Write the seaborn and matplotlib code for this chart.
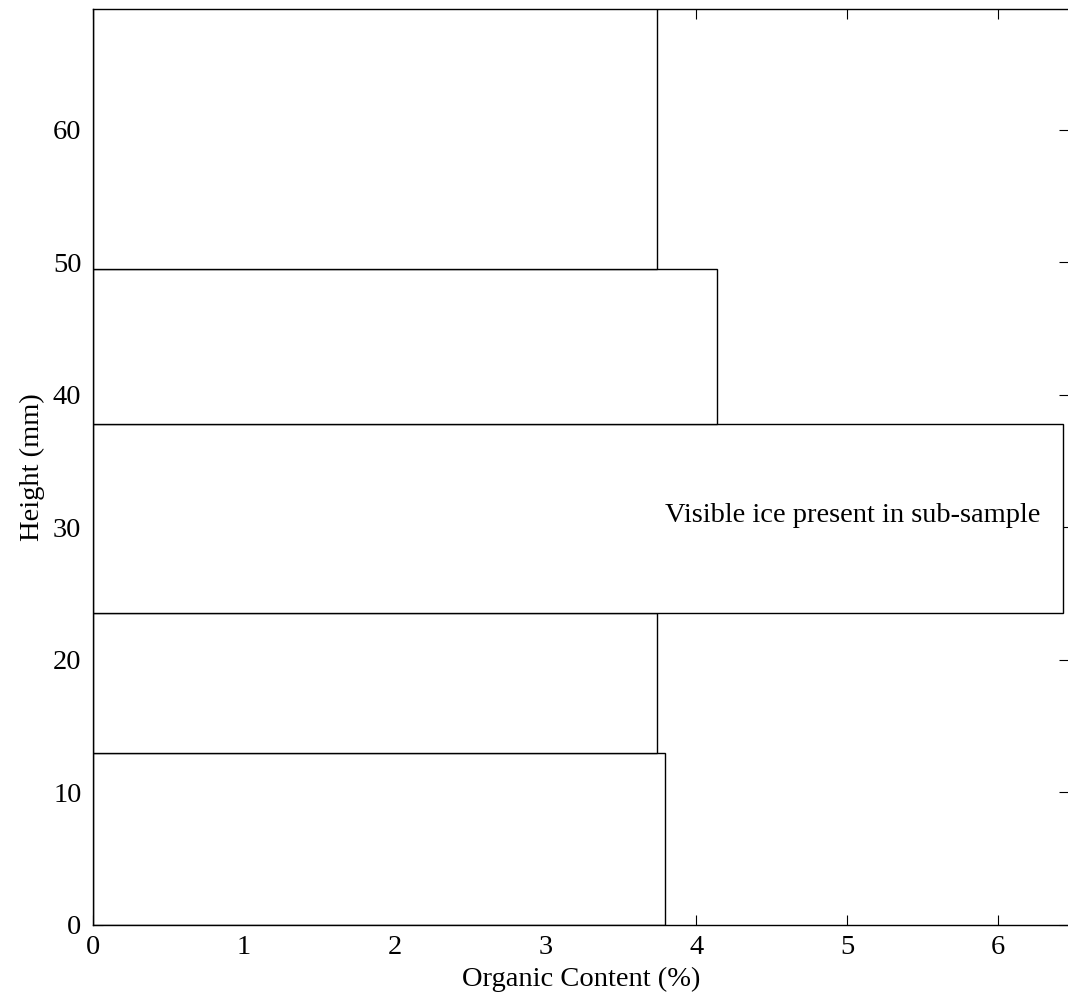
import seaborn as sns
import matplotlib.pyplot as plt

# sub-sample heights (mm) and organic content (%)
bottoms = [0, 13.0, 23.5, 37.8, 49.5]
tops = [13.0, 23.5, 37.8, 49.5, 70.0]
organic = [3.79, 3.74, 6.43, 4.14, 3.74]

x_ticks = [0, 1, 2, 3, 4, 5, 6]
y_ticks = [0, 10, 20, 30, 40, 50, 60]

sns.set_style("ticks")
plt.rcParams['font.family'] = ['Liberation Serif', 'DejaVu Serif']
plt.rcParams['font.size'] = 20.5
plt.rcParams['text.color'] = 'black'
plt.rcParams['axes.labelcolor'] = 'black'

fig = plt.figure(figsize=(10.68, 9.99), dpi=100)
ax = fig.add_axes([0.0871, 0.0741, 0.9135, 0.917])

heights = [t - b for b, t in zip(bottoms, tops)]
ax.barh(bottoms, organic, height=heights, left=0, align='edge',
        color='white', edgecolor='black', linewidth=1.0)

ax.text(6.28, 30.9, 'Visible ice present in sub-sample', ha='right', va='center')

ax.set_xlim(0, 6.47)
ax.set_ylim(0, 69.1)
ax.set_xticks(x_ticks)
ax.set_yticks(y_ticks)
ax.tick_params(direction='in', length=7, width=0.8, top=True, right=True,
               colors='black', labelsize=20.5)
ax.tick_params(axis='x', pad=7.5)
ax.tick_params(axis='y', pad=8.3)
for s in ax.spines.values():
    s.set_linewidth(1.0)
    s.set_color('black')

ax.set_xlabel('Organic Content (%)', labelpad=5)
ax.set_ylabel('Height (mm)', labelpad=6)

fig.savefig('out.png', dpi=100)
